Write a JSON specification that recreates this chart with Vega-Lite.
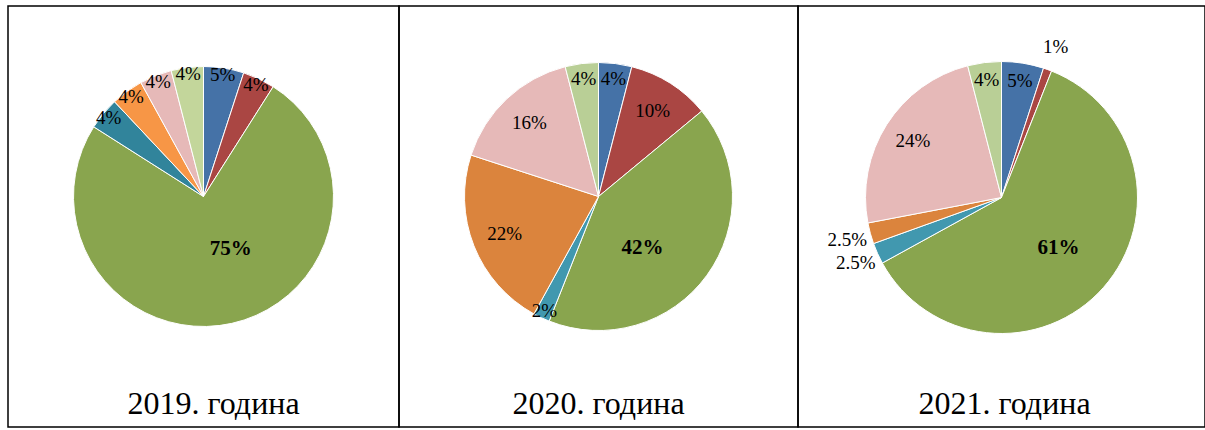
{
  "$schema": "https://vega.github.io/schema/vega-lite/v6.json",
  "background": "white",
  "padding": {"left": 7, "top": 5, "right": 0, "bottom": 0},
  "bounds": "flush",
  "data": {"values": [
    {"year": 2019, "cat": "A", "value": 5},
    {"year": 2019, "cat": "B", "value": 4},
    {"year": 2019, "cat": "C", "value": 75},
    {"year": 2019, "cat": "D", "value": 4},
    {"year": 2019, "cat": "E", "value": 4},
    {"year": 2019, "cat": "F", "value": 4},
    {"year": 2019, "cat": "G", "value": 4},
    {"year": 2020, "cat": "A", "value": 4},
    {"year": 2020, "cat": "B", "value": 10},
    {"year": 2020, "cat": "C", "value": 42},
    {"year": 2020, "cat": "D", "value": 2},
    {"year": 2020, "cat": "E", "value": 22},
    {"year": 2020, "cat": "F", "value": 16},
    {"year": 2020, "cat": "G", "value": 4},
    {"year": 2021, "cat": "A", "value": 5},
    {"year": 2021, "cat": "B", "value": 1},
    {"year": 2021, "cat": "C", "value": 61},
    {"year": 2021, "cat": "D", "value": 2.5},
    {"year": 2021, "cat": "E", "value": 2.5},
    {"year": 2021, "cat": "F", "value": 24},
    {"year": 2021, "cat": "G", "value": 4}
  ]},
  "spacing": 0,
  "resolve": {"scale": {"color": "independent"}},
  "hconcat": [
    {
      "width": 391, "height": 421,
      "view": {"stroke": "black", "strokeWidth": 1.5},
      "title": {"text": "2019. година", "orient": "bottom", "offset": -38, "dx": 10, "fontSize": 32, "font": "Liberation Serif", "fontWeight": "normal", "color": "black", "anchor": "middle"},
      "transform": [{"filter": "datum.year == 2019"}, {"calculate": "datum.value + '%'", "as": "label"}],
      "encoding": {
        "theta": {"field": "value", "type": "quantitative", "stack": true},
        "order": {"field": "cat", "type": "ordinal", "sort": "ascending"}
      },
      "layer": [
        {"mark": {"type": "arc", "outerRadius": 130, "y": {"expr": "height/2 - 20"}, "stroke": "white", "strokeWidth": 1},
         "encoding": {"color": {"field": "cat", "type": "nominal", "legend": null,
           "scale": {"domain": ["A","B","C","D","E","F","G"], "range": ["#4572A7","#AA4643","#89A54E","#31849B","#F79646","#E6B9B8","#C3D69B"]}}}},
        {"mark": {"type": "text", "radius": 123, "y": {"expr": "height/2 - 20"}, "font": "Liberation Serif", "fontSize": 19, "color": "black"},
         "encoding": {"text": {"condition": {"test": "datum.value >= 40", "value": ""}, "field": "label"}}},
        {"mark": {"type": "text", "radius": 59, "thetaOffset": -0.258, "y": {"expr": "height/2 - 20"}, "font": "Liberation Serif", "fontSize": 21, "fontWeight": "bold", "color": "black"},
         "encoding": {"text": {"condition": {"test": "datum.value < 40", "value": ""}, "field": "label"}}}
      ]
    },
    {
      "width": 399, "height": 421,
      "view": {"stroke": "black", "strokeWidth": 1.5},
      "title": {"text": "2020. година", "orient": "bottom", "offset": -38, "fontSize": 32, "font": "Liberation Serif", "fontWeight": "normal", "color": "black", "anchor": "middle"},
      "transform": [{"filter": "datum.year == 2020"}, {"calculate": "datum.value + '%'", "as": "label"}],
      "encoding": {
        "theta": {"field": "value", "type": "quantitative", "stack": true},
        "order": {"field": "cat", "type": "ordinal", "sort": "ascending"}
      },
      "layer": [
        {"mark": {"type": "arc", "outerRadius": 134, "y": {"expr": "height/2 - 20"}, "stroke": "white", "strokeWidth": 1},
         "encoding": {"color": {"field": "cat", "type": "nominal", "legend": null,
           "scale": {"domain": ["A","B","C","D","E","F","G"], "range": ["#4572A7","#AA4643","#89A54E","#4198AF","#DB843D","#E6B9B8","#B9CF96"]}}}},
        {"mark": {"type": "text", "radius": 127, "y": {"expr": "height/2 - 20"}, "font": "Liberation Serif", "fontSize": 19, "color": "black"},
         "encoding": {"text": {"condition": {"test": "datum.value >= 3", "value": ""}, "field": "label"}}},
        {"mark": {"type": "text", "radius": 118, "y": {"expr": "height/2 - 20"}, "font": "Liberation Serif", "fontSize": 19, "color": "black"},
         "encoding": {"text": {"condition": {"test": "datum.value < 3 || datum.value >= 10", "value": ""}, "field": "label"}}},
        {"mark": {"type": "text", "radius": 101, "y": {"expr": "height/2 - 20"}, "font": "Liberation Serif", "fontSize": 19, "color": "black"},
         "encoding": {"text": {"condition": {"test": "datum.value < 10 || datum.value >= 40", "value": ""}, "field": "label"}}},
        {"mark": {"type": "text", "radius": 68, "thetaOffset": 0.241, "y": {"expr": "height/2 - 20"}, "font": "Liberation Serif", "fontSize": 21, "fontWeight": "bold", "color": "black"},
         "encoding": {"text": {"condition": {"test": "datum.value < 40", "value": ""}, "field": "label"}}}
      ]
    },
    {
      "width": 407, "height": 421,
      "view": {"stroke": "black", "strokeWidth": 1.5},
      "title": {"text": "2021. година", "orient": "bottom", "offset": -38, "dx": 3, "fontSize": 32, "font": "Liberation Serif", "fontWeight": "normal", "color": "black", "anchor": "middle"},
      "transform": [{"filter": "datum.year == 2021"}, {"calculate": "datum.value + '%'", "as": "label"}],
      "encoding": {
        "theta": {"field": "value", "type": "quantitative", "stack": true},
        "order": {"field": "cat", "type": "ordinal", "sort": "ascending"}
      },
      "layer": [
        {"mark": {"type": "arc", "outerRadius": 136, "y": {"expr": "height/2 - 19"}, "stroke": "white", "strokeWidth": 1},
         "encoding": {"color": {"field": "cat", "type": "nominal", "legend": null,
           "scale": {"domain": ["A","B","C","D","E","F","G"], "range": ["#4572A7","#AA4643","#89A54E","#4198AF","#DB843D","#E6B9B8","#B9CF96"]}}}},
        {"mark": {"type": "text", "radius": 160, "y": {"expr": "height/2 - 19"}, "font": "Liberation Serif", "fontSize": 19, "color": "black"},
         "encoding": {"text": {"condition": {"test": "datum.value >= 3", "value": ""}, "field": "label"}}},
        {"mark": {"type": "text", "radius": 118, "y": {"expr": "height/2 - 19"}, "font": "Liberation Serif", "fontSize": 19, "color": "black"},
         "encoding": {"text": {"condition": {"test": "datum.value < 3 || datum.value >= 10", "value": ""}, "field": "label"}}},
        {"mark": {"type": "text", "radius": 105, "y": {"expr": "height/2 - 19"}, "font": "Liberation Serif", "fontSize": 19, "color": "black"},
         "encoding": {"text": {"condition": {"test": "datum.value < 10 || datum.value >= 40", "value": ""}, "field": "label"}}},
        {"mark": {"type": "text", "radius": 76, "y": {"expr": "height/2 - 19"}, "font": "Liberation Serif", "fontSize": 21, "fontWeight": "bold", "color": "black"},
         "encoding": {"text": {"condition": {"test": "datum.value < 40", "value": ""}, "field": "label"}}}
      ]
    }
  ],
  "config": {
    "view": {"stroke": "black", "strokeWidth": 1.5},
    "concat": {"spacing": 0}
  }
}
